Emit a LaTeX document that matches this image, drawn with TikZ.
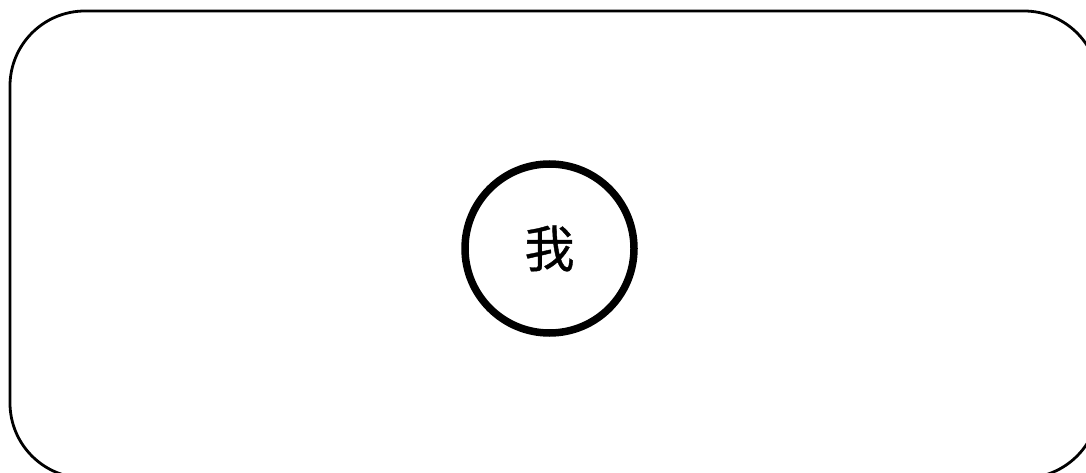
\documentclass[tikz,border=0pt]{standalone}
\usepackage{fontspec}
\newfontfamily\cjk{Noto Sans CJK SC}[FakeBold=0.8]
\begin{document}
\begin{tikzpicture}[x=1pt,y=-1pt,
  frame/.style={draw=black,line width=2.8pt,rounded corners=75pt},
  selfnode/.style={circle,draw=black,line width=7.5pt,minimum size=169pt,inner sep=0pt,font=\cjk\fontsize{50}{58}\selectfont}]
\useasboundingbox (0,0) rectangle (1086,473);
\clip (0,0) rectangle (1086,473);
\draw[frame] (10,11) rectangle (1099,478);
\node[selfnode] (me) at (549.5,248.5) {我};
\end{tikzpicture}
\end{document}
